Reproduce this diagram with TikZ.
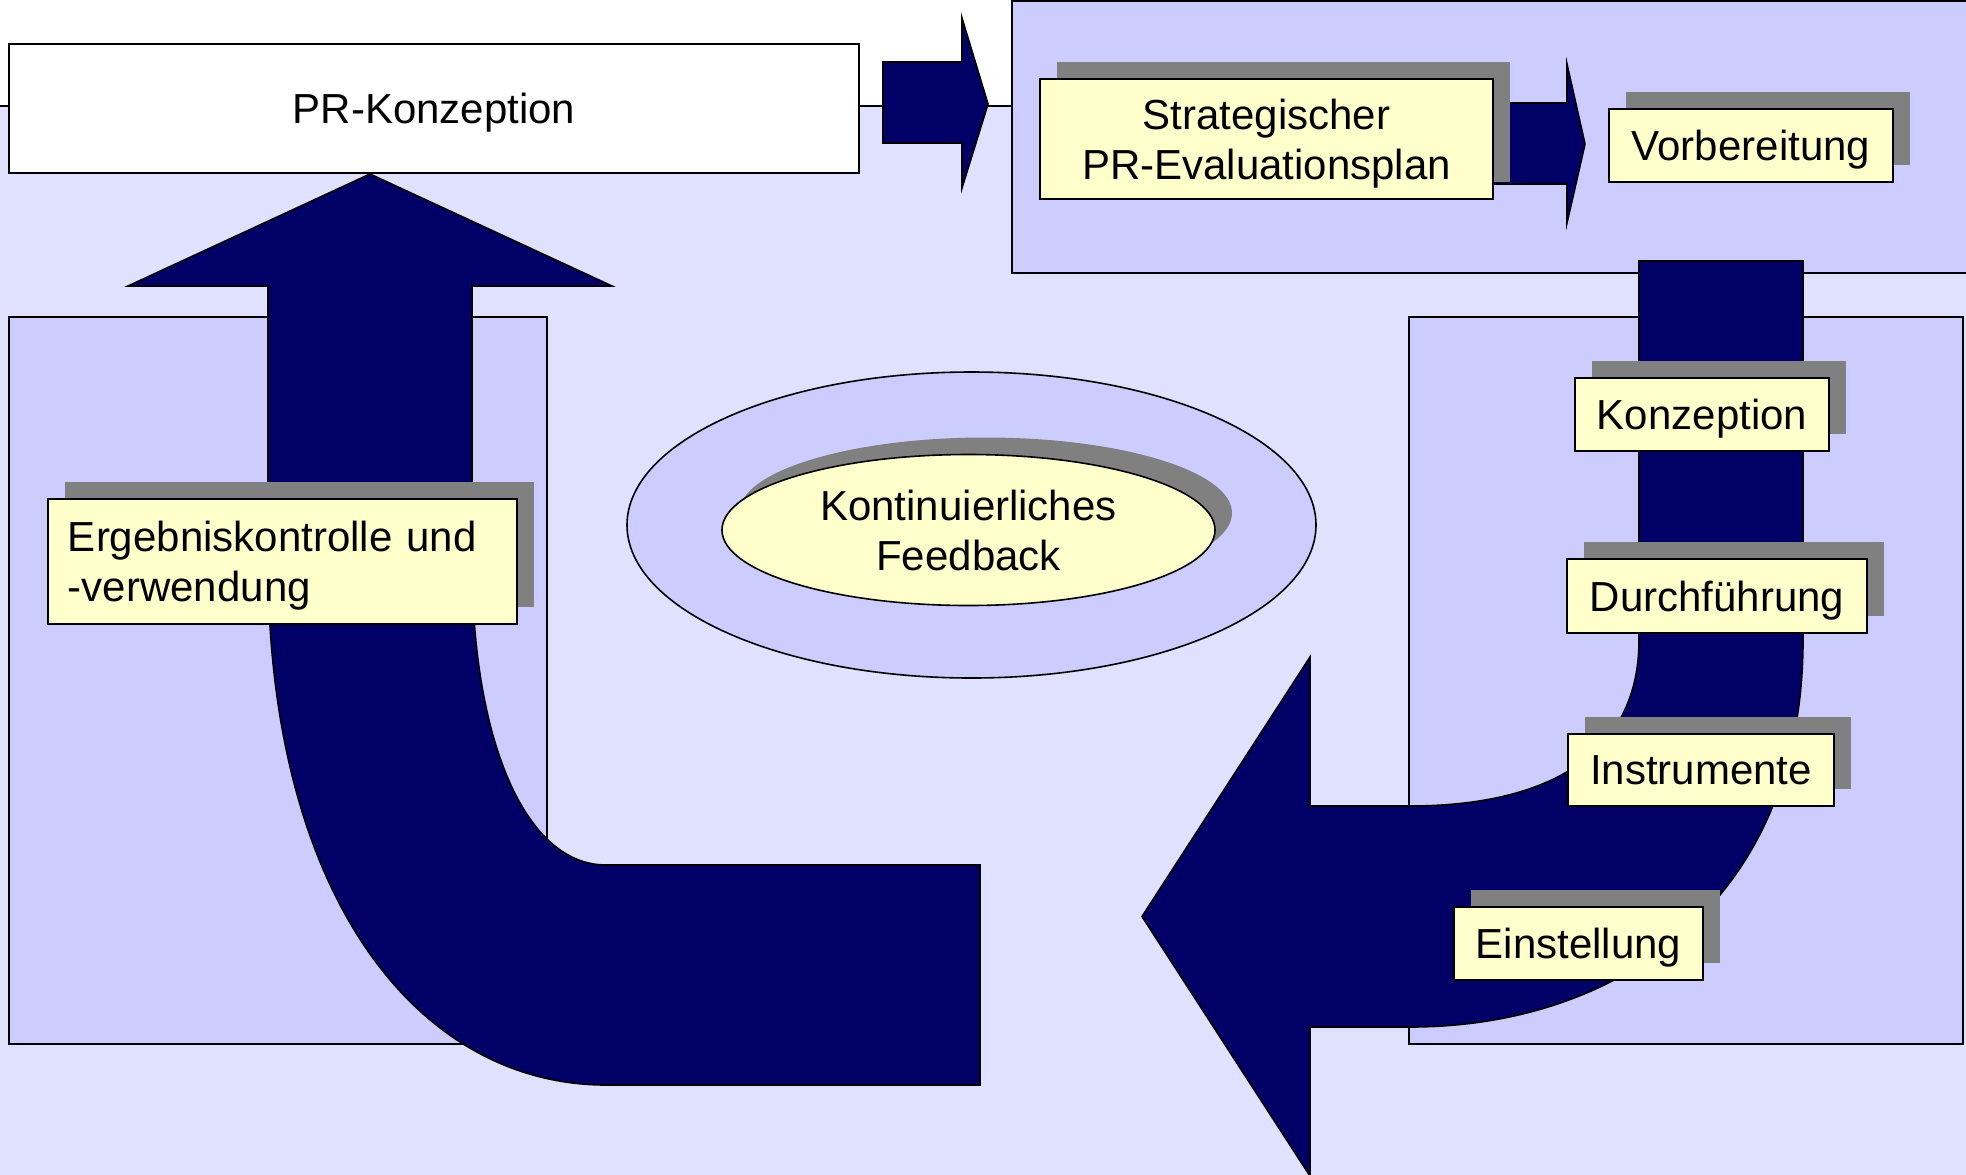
\documentclass[tikz,border=0pt]{standalone}
\usepackage{fontspec}
\setmainfont{Liberation Sans}
\usepackage{tikz}
\usetikzlibrary{shapes.geometric,shadows}
\usepackage{xcolor}

\definecolor{bglav}{HTML}{E0E0FF}
\definecolor{panel}{HTML}{CCCCFF}
\definecolor{navy}{HTML}{000066}
\definecolor{cream}{HTML}{FFFFCC}
\definecolor{shade}{HTML}{808080}

\begin{document}
\begin{tikzpicture}[
    x=0.5pt, y=-0.5pt,
    font=\fontsize{21pt}{25pt}\selectfont,
    panelbox/.style={draw, fill=panel, line width=0.8pt},
    shadowbox/.style={rectangle, draw, fill=cream, line width=0.8pt, inner sep=0pt, align=center,
        text depth=0pt,
        general shadow={fill=shade, shadow xshift=8.5pt, shadow yshift=8.5pt}},
    blockarrow/.style={draw, fill=navy, line width=0.8pt, line join=miter}
]
\useasboundingbox (0,0) rectangle (1966,1174);
\clip (0,0) rectangle (1966,1174);

% background
\fill[white] (0,0) rectangle (1966,1174);
\fill[bglav] (-10,106) rectangle (1976,1184);
\draw[line width=0.8pt] (-10,106) -- (1976,106);

% panels
\draw[panelbox] (9,317) rectangle (547,1044);
\draw[panelbox] (1409,317) rectangle (1963,1044);
\draw[panelbox] (1012,1) rectangle (1980,273);

% big arrows
\draw[blockarrow] (370,174) -- (612,286) -- (472,286) -- (472,560)
    .. controls (472,740) and (525,865) .. (606,865) -- (980,865) -- (980,1085) -- (606,1085)
    .. controls (420,1085) and (268,900) .. (268,560) -- (268,286) -- (128,286) -- cycle;
\draw[blockarrow] (1639,261) -- (1803,261) -- (1803,640)
    .. controls (1803,900) and (1620,1027) .. (1410,1027) -- (1310,1027) -- (1310,1176)
    -- (1142,916.5) -- (1310,657) -- (1310,806) -- (1410,806)
    .. controls (1540,806) and (1639,760) .. (1639,640) -- cycle;

% small arrows
\draw[blockarrow] (883,62) -- (962,62) -- (962,18) -- (988,104) -- (962,188) -- (962,143) -- (883,143) -- cycle;
\draw[blockarrow] (1493,103) -- (1567,103) -- (1567,64) -- (1585,144) -- (1567,223) -- (1567,184) -- (1493,184) -- cycle;

% boxes
\node[rectangle, draw, fill=white, line width=0.8pt, inner sep=0pt, text depth=0pt,
    minimum width=425pt, minimum height=64.5pt] (prk) at (434,108.5) {PR-Konzeption};
\node[shadowbox, minimum width=226.5pt, minimum height=60pt] (plan) at (1266.5,139) {Strategischer\\PR-Evaluationsplan};
\node[shadowbox, minimum width=142pt, minimum height=36.5pt] (prep) at (1751,145.5) {Vorbereitung};

\node[shadowbox, minimum width=127pt, minimum height=36.5pt] (konz) at (1702,414.5) {Konzeption};
\node[shadowbox, minimum width=150pt, minimum height=37pt] (durch) at (1717,596) {Durchführung};
\node[shadowbox, minimum width=133pt, minimum height=36pt] (instr) at (1701,770) {Instrumente};
\node[shadowbox, minimum width=124.5pt, minimum height=36.5pt] (einst) at (1578.5,943.5) {Einstellung};

\node[shadowbox, align=left, inner xsep=10pt, text width=214.5pt, text height=15pt, text depth=25pt,
    minimum height=62.5pt] (result) at (282.5,561.5) {Ergebniskontrolle und\\-verwendung};

% feedback
\node[ellipse, draw, fill=panel, line width=0.8pt, inner sep=0pt,
    minimum width=344.5pt, minimum height=153pt] (ring) at (971.5,525) {};
\node[shadowbox, ellipse, minimum width=246.5pt, minimum height=75.5pt] (feedback) at (968.5,530) {Kontinuierliches\\Feedback};

\end{tikzpicture}
\end{document}
